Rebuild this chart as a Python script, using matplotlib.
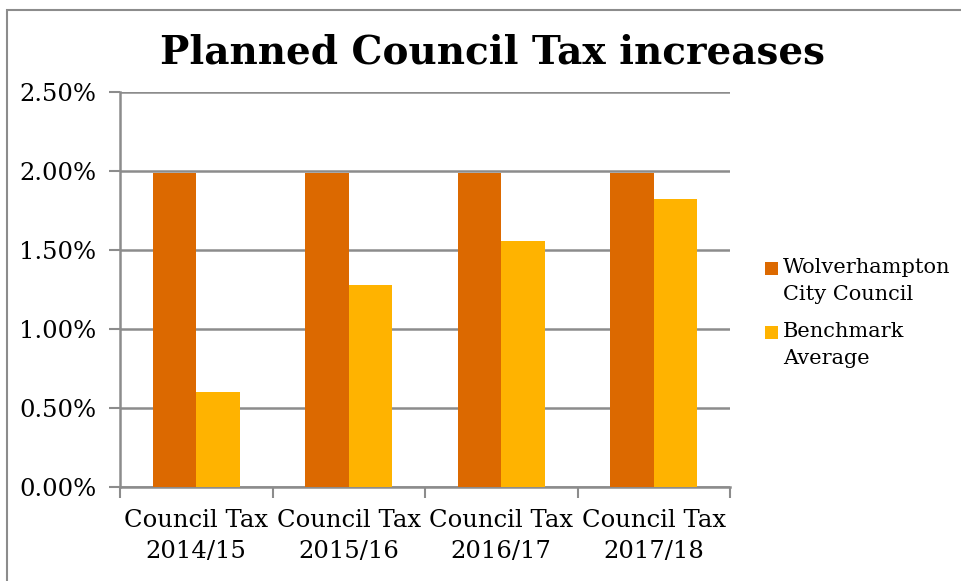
import matplotlib
matplotlib.use("Agg")
import matplotlib.pyplot as plt
import numpy as np
from matplotlib.patches import Rectangle
from matplotlib.ticker import FuncFormatter

categories = ["Council Tax\n2014/15", "Council Tax\n2015/16", "Council Tax\n2016/17", "Council Tax\n2017/18"]
series_names = ["Wolverhampton\nCity Council", "Benchmark\nAverage"]
wolverhampton = [1.99, 1.99, 1.99, 1.99]
benchmark = [0.60, 1.28, 1.56, 1.82]
colors = ["#DC6900", "#FFB300"]

W, H = 961, 581
fig = plt.figure(figsize=(W/100, H/100), dpi=100)
font = "DejaVu Serif"
plt.rcParams['font.family'] = font

ax = fig.add_axes([120/W, 1-487/H, (730-120)/W, (487-92)/H])
x = np.arange(len(categories))
bw = 0.285
ax.bar(x - bw/2, wolverhampton, bw, color=colors[0], label=series_names[0], zorder=3)
ax.bar(x + bw/2, benchmark, bw, color=colors[1], label=series_names[1], zorder=3)

ax.set_xlim(-0.5, len(categories)-0.5)
ax.set_ylim(0, 2.5)
ax.set_yticks(np.arange(0, 2.51, 0.5))
ax.yaxis.set_major_formatter(FuncFormatter(lambda v, p: f"{v:.2f}%"))
ax.yaxis.grid(True, color="#8c8c8c", linewidth=1.8, zorder=0)
ax.set_axisbelow(True)
ax.set_xticks(np.arange(-0.5, len(categories), 1.0))
ax.set_xticklabels([])
ax.set_xticks(x, minor=True)
ax.set_xticklabels(categories, minor=True, fontsize=17.5, linespacing=1.45)
ax.tick_params(axis='x', which='minor', length=0, pad=16)
ax.tick_params(axis='x', which='major', length=8, width=1.5, color="#8c8c8c", direction='out')
ax.tick_params(axis='y', length=8, width=1.5, color="#8c8c8c", labelsize=17.5, pad=9)
for s in ["top", "right"]:
    ax.spines[s].set_visible(False)
for s in ["left", "bottom"]:
    ax.spines[s].set_color("#8c8c8c")
    ax.spines[s].set_linewidth(1.8)

fig.text(492/W, 1-52/H, "Planned Council Tax increases", ha='center', va='center',
         fontsize=28, fontweight='bold', family=font)

# legend drawn as figure artists (square aligned with the first text line)
legend_tops = [258, 322]
for name, col, top in zip(series_names, colors, legend_tops):
    fig.patches.append(Rectangle((765/W, 1-(top+17)/H), 13/W, 13/H, transform=fig.transFigure,
                                 facecolor=col, edgecolor='none'))
    fig.text(783/W, 1-top/H, name, ha='left', va='top', fontsize=15, linespacing=1.5,
             family=font)

fig.patches.append(Rectangle((7/W, -0.1), 1.2, 1-10/H+0.1, transform=fig.transFigure,
                             fill=False, edgecolor="#8c8c8c", linewidth=1.5))

fig.savefig("out.png", dpi=100)
